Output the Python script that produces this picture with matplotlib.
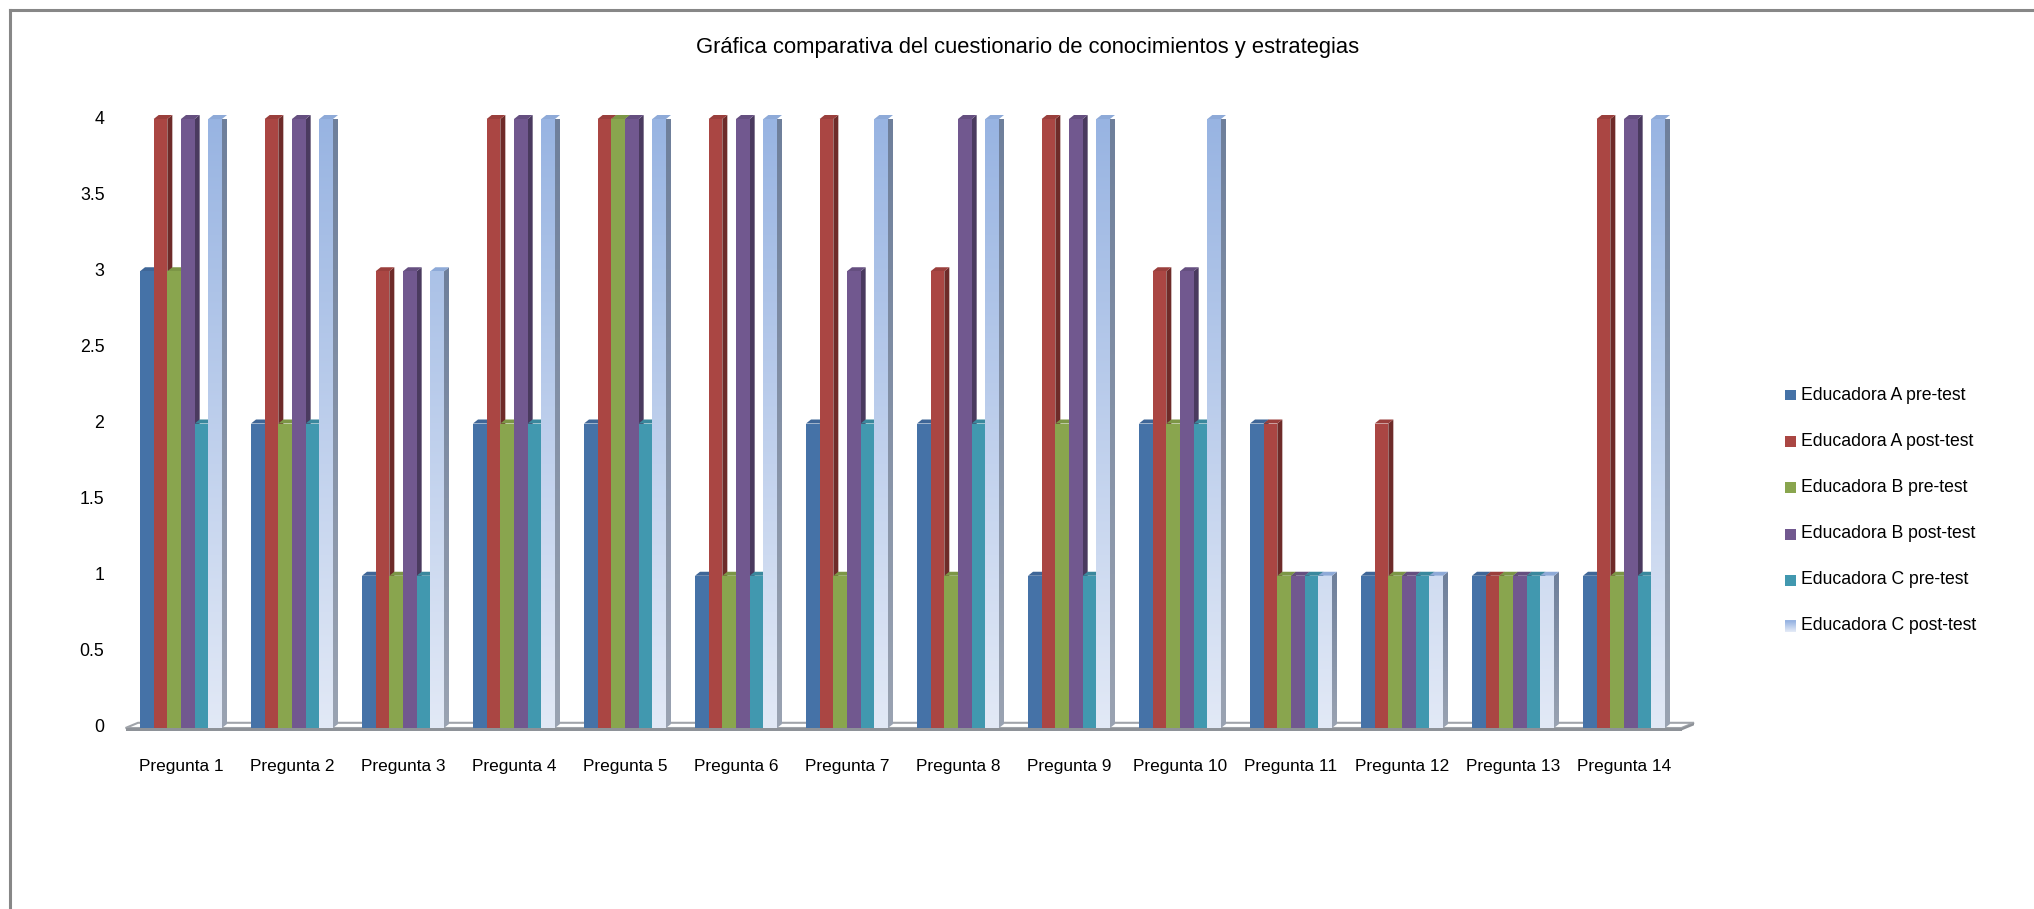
import numpy as np
import matplotlib
matplotlib.use("Agg")
import matplotlib.pyplot as plt
from matplotlib.patches import Polygon, Rectangle
from matplotlib.lines import Line2D
from matplotlib.colors import to_rgb

plt.rcParams['font.family'] = ['Liberation Sans', 'DejaVu Sans']

title = "Gráfica comparativa del cuestionario de conocimientos y estrategias"
preguntas = [f"Pregunta {i}" for i in range(1, 15)]
series_names = [
    "Educadora A pre-test", "Educadora A post-test",
    "Educadora B pre-test", "Educadora B post-test",
    "Educadora C pre-test", "Educadora C post-test",
]
a_pre  = [3, 2, 1, 2, 2, 1, 2, 2, 1, 2, 2, 1, 1, 1]
a_post = [4, 4, 3, 4, 4, 4, 4, 3, 4, 3, 2, 2, 1, 4]
b_pre  = [3, 2, 1, 2, 4, 1, 1, 1, 2, 2, 1, 1, 1, 1]
b_post = [4, 4, 3, 4, 4, 4, 3, 4, 4, 3, 1, 1, 1, 4]
c_pre  = [2, 2, 1, 2, 2, 1, 2, 2, 1, 2, 1, 1, 1, 1]
c_post = [4, 4, 3, 4, 4, 4, 4, 4, 4, 4, 1, 1, 1, 4]
series = [a_pre, a_post, b_pre, b_post, c_pre, c_post]
yticks = [0, 0.5, 1, 1.5, 2, 2.5, 3, 3.5, 4]

front = ["#4572A7", "#AA4643", "#89A54E", "#71588F", "#4198AF", None]
grad_top, grad_bot = "#98B4E2", "#E2E9F6"
side = ["#2E4C70", "#6E2B29", "#5A6E33", "#4A3A5F", "#2A6577", "#7D8AA0"]
capc = ["#3F6697", "#9A3F3C", "#7C9646", "#654F80", "#3A889D", "#8EAAD8"]

W, H = 2034, 909
fig = plt.figure(figsize=(W / 100, H / 100), dpi=100)
fig.patch.set_facecolor("white")

ax_l, ax_r, ax_b, ax_t = 125.5, 1679.5, 728, 119
ax = fig.add_axes([ax_l / W, 1 - ax_b / H, (ax_r - ax_l) / W, (ax_b - ax_t) / H])
ax.set_xlim(-0.5, 13.5)
ax.set_ylim(0, 4)
ax.axis("off")

px_x = (13.5 + 0.5) / (ax_r - ax_l)   # data units per pixel, x
px_y = 4 / (ax_b - ax_t)             # data units per pixel, y
ddx, ddy = 5 * px_x, 4 * px_y         # depth offset of the 3D look

n = len(series)
group_w = 82 / 111
bw = group_w / n
x = np.arange(len(preguntas))

# floor slab
x0, x1 = -0.5, 13.5 + 2 * px_x
floor_top = Polygon([[x0, 0], [x1, 0], [x1 + 2.5 * ddx, 1.3 * ddy], [x0 + 2.5 * ddx, 1.3 * ddy]],
                    closed=True, facecolor="#FFFFFF", edgecolor="#A0A4AA", lw=1.5,
                    clip_on=False, zorder=1)
ax.add_patch(floor_top)
floor_front = Rectangle((x0, -2.5 * px_y), x1 - x0, 2.5 * px_y, facecolor="#8E9298",
                        edgecolor="none", clip_on=False, zorder=1)
ax.add_patch(floor_front)
floor_side = Polygon([[x1, -2.5 * px_y], [x1 + 2.5 * ddx, 1.3 * ddy - 2.5 * px_y],
                      [x1 + 2.5 * ddx, 1.3 * ddy], [x1, 0]], closed=True,
                     facecolor="#8E9298", edgecolor="none", clip_on=False, zorder=1)
ax.add_patch(floor_side)

grad = np.linspace(0, 1, 256)[:, None]
gt, gb = np.array(to_rgb(grad_top)), np.array(to_rgb(grad_bot))
grad_img = gb[None, None, :] * (1 - grad[..., None]) + gt[None, None, :] * grad[..., None]
side_grad_t, side_grad_b = np.array(to_rgb("#6E7F9B")), np.array(to_rgb("#9AA3B2"))
side_img = side_grad_b[None, None, :] * (1 - grad[..., None]) + side_grad_t[None, None, :] * grad[..., None]

z = 2
for gi in range(len(preguntas)):
    for si, vals in enumerate(series):
        v = vals[gi]
        left = x[gi] - group_w / 2 + si * bw
        right = left + bw
        # right side face
        sp = Polygon([[right, 0], [right + ddx, ddy], [right + ddx, v + ddy], [right, v]],
                     closed=True, facecolor=side[si], edgecolor="none", zorder=z, clip_on=False)
        ax.add_patch(sp)
        if si == 5:
            sp.set_facecolor("none")
            im = ax.imshow(side_img, extent=[right, right + ddx, 0, v + ddy], origin="lower",
                           aspect="auto", zorder=z, interpolation="bilinear")
            im.set_clip_path(sp)
        # top cap
        cp = Polygon([[left, v], [right, v], [right + ddx, v + ddy], [left + ddx, v + ddy]],
                     closed=True, facecolor=capc[si], edgecolor="none", zorder=z + 0.1, clip_on=False)
        ax.add_patch(cp)
        # front face
        bars = ax.bar(left, v, width=bw, align="edge", zorder=z + 0.2, linewidth=0,
                      color=front[si] if front[si] else "none", clip_on=False)
        if si == 5:
            im = ax.imshow(grad_img, extent=[left, right, 0, 4], origin="lower",
                           aspect="auto", zorder=z + 0.2, interpolation="bilinear")
            im.set_clip_path(bars[0])
        z += 0.5

# tick labels
for yv in yticks:
    ax.text(-0.5 - 21 * px_x, yv, f"{yv:g}", ha="right", va="center", fontsize=12.8,
            color="#000000", clip_on=False)
for gi, lab in enumerate(preguntas):
    ax.text(x[gi], -38 * px_y, lab, ha="center", va="center", fontsize=12.4,
            color="#000000", clip_on=False)

fig.text(1028 / W, 1 - 47 / H, title, ha="center", va="center", fontsize=15.8, color="#000000")

# legend
leg_y = [395, 441.5, 488, 534, 580, 626]
for si, name in enumerate(series_names):
    yc = leg_y[si]
    if front[si]:
        fig.patches.append(Rectangle((1785 / W, 1 - (yc + 5.5) / H), 11 / W, 11 / H,
                                     transform=fig.transFigure, facecolor=front[si],
                                     edgecolor="none"))
    else:
        nstep = 11
        for k in range(nstep):
            f = k / (nstep - 1)
            col = gb * (1 - f) + gt * f
            fig.patches.append(Rectangle((1785 / W, 1 - (yc + 5.5 - k) / H), 11 / W, 1.05 / H,
                                         transform=fig.transFigure, facecolor=col,
                                         edgecolor="none"))
    fig.text(1801 / W, 1 - yc / H, name, ha="left", va="center", fontsize=12.7, color="#000000")

# outer frame
fig.lines.append(Line2D([9.5 / W, 9.5 / W], [0, 1 - 9.5 / H], transform=fig.transFigure,
                        color="#878787", lw=2.2, solid_capstyle="projecting"))
fig.lines.append(Line2D([9.5 / W, 1], [1 - 9.5 / H, 1 - 9.5 / H], transform=fig.transFigure,
                        color="#878787", lw=2.2, solid_capstyle="projecting"))

fig.savefig("out.png", dpi=100, facecolor="white")
